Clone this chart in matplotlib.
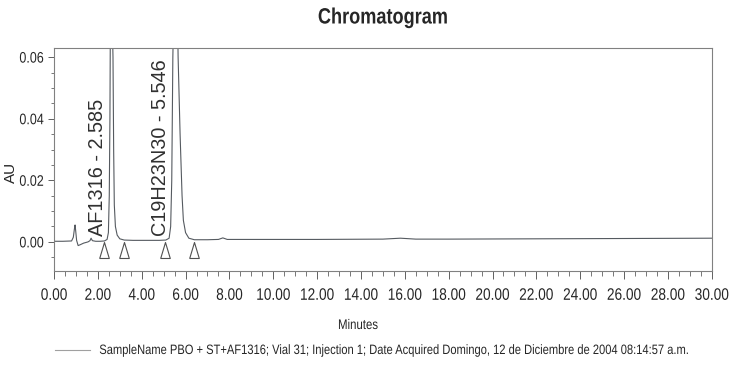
import numpy as np
import matplotlib
matplotlib.use("Agg")
import matplotlib.pyplot as plt
from matplotlib.ticker import MultipleLocator, FormatStrFormatter
from matplotlib import patheffects
from matplotlib.transforms import Affine2D

plt.rcParams['font.family'] = ['Liberation Sans', 'DejaVu Sans']


class Estrecho(patheffects.AbstractPathEffect):
	""" Comprime el texto en horizontal (letra tipo Arial Narrow) """
	def __init__(self, sx=0.82):
		super().__init__()
		self.sx = sx

	def draw_path(self, renderer, gc, tpath, affine, rgbFace=None):
		v = tpath.vertices
		cx = (v[:, 0].min() + v[:, 0].max()) / 2.0 if len(v) else 0.0
		t = Affine2D().translate(-cx, 0).scale(self.sx, 1.0).translate(cx, 0)
		renderer.draw_path(gc, tpath, t + affine, rgbFace)


SX = 0.82

# Traza del detector (min, AU)
tiempo = [0.0, 0.4, 0.8, 0.88, 0.93, 0.96, 0.99, 1.03, 1.1, 1.2, 1.35, 1.55, 1.64, 1.69, 1.75,
	1.9, 2.1, 2.3, 2.42, 2.48, 2.52, 2.55, 2.585, 2.63, 2.69, 2.72, 2.75, 2.8, 2.88, 3.0, 3.2,
	3.6, 4.2, 4.8, 5.1, 5.25, 5.32, 5.37, 5.42, 5.546, 5.62, 5.66, 5.75, 5.84, 5.9, 6.0, 6.15,
	6.4, 7.0, 7.5, 7.7, 7.9, 9.0, 12.0, 15.0, 15.8, 16.5, 18.0, 22.0, 26.0, 30.0]
absorbancia = [0.0002, 0.0002, 0.0003, 0.0015, 0.0042, 0.0055, 0.0035, 0.0005, -0.0012, -0.0009,
	-0.0004, 0.0, 0.0004, 0.0012, 0.0004,
	0.0002, 0.0002, 0.0003, 0.0008, 0.003, 0.015, 0.04, 0.095, 0.08, 0.06, 0.03, 0.012, 0.005,
	0.0022, 0.001, 0.0006,
	0.0005, 0.0005, 0.0005, 0.0006, 0.0012, 0.005, 0.02, 0.06, 0.11, 0.08, 0.06, 0.035, 0.015,
	0.007, 0.003, 0.0012,
	0.0007, 0.0007, 0.0008, 0.0013, 0.0008, 0.0008, 0.0008, 0.0009, 0.0012, 0.0009, 0.0009,
	0.001, 0.0011, 0.0012]

# Picos identificados
picos_nombre = ['AF1316', 'C19H23N30']
picos_tr = [2.585, 5.546]
picos_txt_x = [1.98, 4.85]

# Marcas de inicio y fin de integracion
marcas_t = [2.28, 3.19, 5.06, 6.38]

leyenda = ('SampleName PBO + ST+AF1316; Vial 31; Injection 1; '
	'Date Acquired Domingo, 12 de Diciembre de 2004 08:14:57 a.m.')

gris = '#606060'
negro = '#262626'

fig = plt.figure(figsize=(7.3, 3.74), dpi=100)
ax = fig.add_axes([0.074, 0.275, 0.901, 0.597])

ax.plot(tiempo, absorbancia, color='#555a60', lw=0.8)

# triangulos de integracion
tri = [(-0.6, -1.0), (0.6, -1.0), (0.0, 1.0), (-0.6, -1.0)]
ax.plot(marcas_t, [-0.0026] * len(marcas_t), ls='none', marker=tri, markersize=11.5,
	markerfacecolor='none', markeredgecolor='#505050', markeredgewidth=0.8)

# etiquetas de los picos
for nom, tr, xt in zip(picos_nombre, picos_tr, picos_txt_x):
	ax.text(xt, 0.002, "%s - %.3f" % (nom, tr), rotation=90, ha='center', va='bottom',
		fontsize=14.3, color='#303030')

ax.set_xlim(0, 30)
ax.set_ylim(-0.0095, 0.063)

ax.xaxis.set_major_locator(MultipleLocator(2))
ax.xaxis.set_minor_locator(MultipleLocator(0.5))
ax.yaxis.set_major_locator(MultipleLocator(0.02))
ax.yaxis.set_minor_locator(MultipleLocator(0.005))
ax.xaxis.set_major_formatter(FormatStrFormatter('%.2f'))
ax.yaxis.set_major_formatter(FormatStrFormatter('%.2f'))

ax.tick_params(axis='x', which='major', length=6, width=0.7, color=gris, labelcolor=negro,
	labelsize=12, pad=6)
ax.tick_params(axis='x', which='minor', length=3.5, width=0.6, color=gris)
ax.tick_params(axis='y', which='major', length=4, width=0.7, color=gris, labelcolor=negro,
	labelsize=11, pad=1.5)
ax.tick_params(axis='y', which='minor', length=2, width=0.6, color=gris)

for lado in ax.spines.values():
	lado.set_color('#808080')
	lado.set_linewidth(0.8)

fig.text(0.015, 0.54, 'AU', rotation=90, ha='center', va='center', fontsize=11, color=negro)

# textos estrechos ajustados a un ancho dado (px)
rend = fig.canvas.get_renderer()


def texto_estrecho(x, y, s, ancho, **kw):
	t = fig.text(x, y, s, ha='center', va='center', fontsize=10, color=negro, **kw)
	w = t.get_window_extent(renderer=rend).width
	t.set_fontsize(10 * ancho / (SX * w))
	t.set_path_effects([Estrecho(SX)])
	return t


texto_estrecho(383 / 730., 1 - 18 / 374., 'Chromatogram', 130, fontweight='bold')
texto_estrecho(358 / 730., 1 - 325 / 374., 'Minutes', 40)

# leyenda bajo el grafico
fig.add_artist(plt.Line2D([55 / 730., 90 / 730.], [1 - 350 / 374.] * 2, color='#a0a0a0', lw=0.8))
texto_estrecho(395 / 730., 1 - 350 / 374., leyenda, 590)

# las etiquetas de los ticks existen tras el primer dibujo
fig.canvas.draw()
for lab in ax.get_xticklabels() + ax.get_yticklabels():
	lab.set_path_effects([Estrecho(SX)])

fig.savefig('out.png', dpi=100, facecolor='white')
